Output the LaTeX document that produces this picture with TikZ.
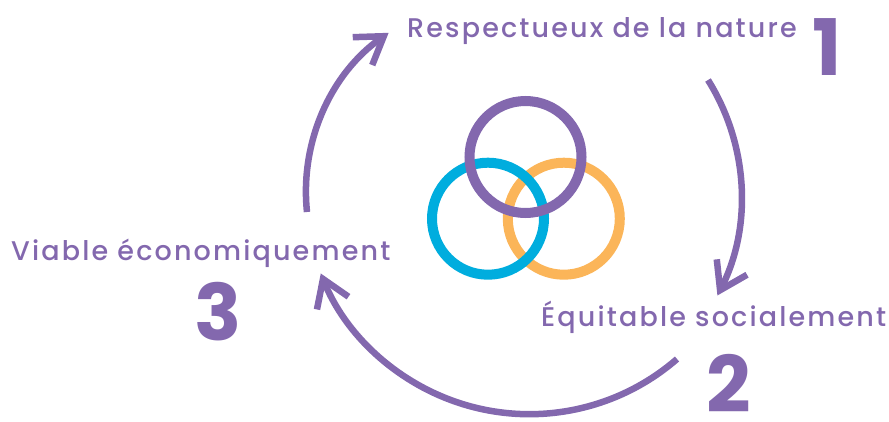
\documentclass[tikz,border=0pt]{standalone}
\usepackage{fontspec}
\setmainfont{Poppins}[UprightFont=* Medium,BoldFont=* Bold,LetterSpace=8]
\usetikzlibrary{arrows.meta}
\definecolor{violeta}{RGB}{131,104,174}
\definecolor{azul}{RGB}{0,173,222}
\definecolor{naranja}{RGB}{251,181,89}
\begin{document}
\begin{tikzpicture}[x=1pt,y=-1pt,
	    ring/.style={line width=10pt},
	    flecha/.style={violeta,line width=6.5pt,-{Straight Barb[length=26pt,width=34pt,sharp]}},
	    etiqueta/.style={violeta,inner sep=0pt,anchor=base west,font=\fontsize{27}{27}\selectfont},
	    numero/.style={violeta,inner sep=0pt,anchor=base west,font=\fontsize{78}{78}\selectfont\bfseries}]
	    \useasboundingbox (0,0) rectangle (889,421);
	    % anillos
	    \draw[ring,naranja] (563.8,218.7) circle (56);
	    \draw[ring,azul] (488,218.7) circle (56);
	    \draw[ring,violeta] (525.5,157) circle (56);
	    % textos y numeros
	    \node[etiqueta] (nature) at (407,37) {Respectueux de la nature};
	    \node[numero] (n1) at (812,75) {1};
	    \node[etiqueta] (social) at (541,326) {Équitable socialement};
	    \node[numero] (n2) at (706,412) {2};
	    \node[etiqueta] (econ) at (11,260) {Viable économiquement};
	    \node[numero] (n3) at (194,340) {3};
	    % flechas del ciclo
	    \coordinate (a1) at (708,80);
	    \coordinate (a2) at (677,359);
	    \coordinate (a3) at (307,212);
	    \draw[flecha] (a1) arc[start angle=-32,end angle=27,radius=219];
	    \draw[flecha] (a2) arc[start angle=49,end angle=158,radius=225];
	    \draw[flecha] (a3) arc[start angle=174,end angle=235,radius=194];
	\end{tikzpicture}
\end{document}
